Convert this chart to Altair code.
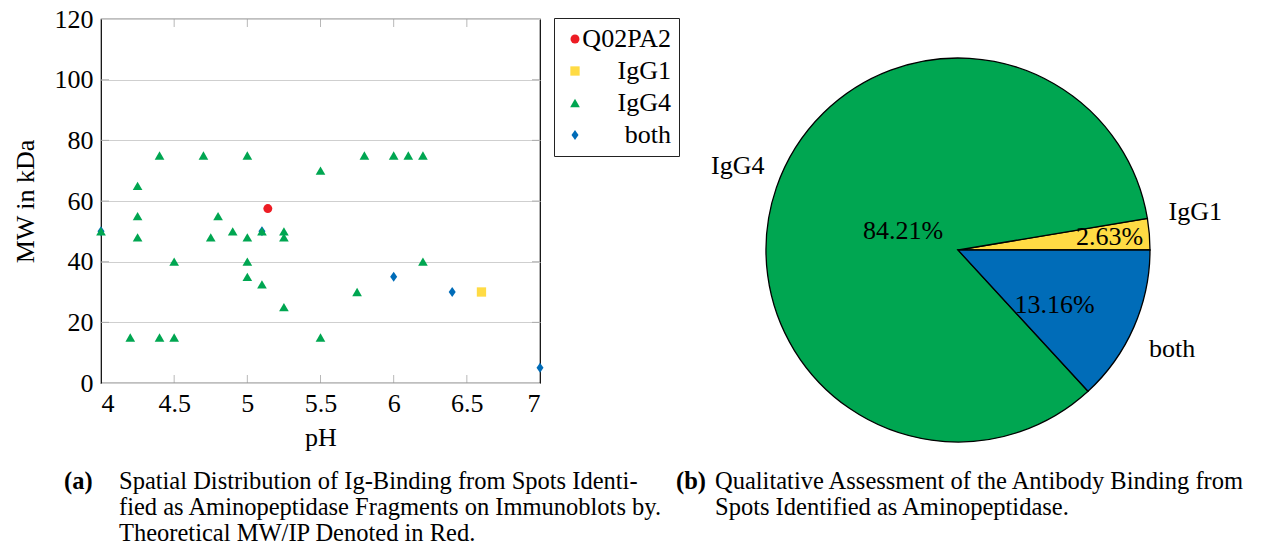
import math
import altair as alt
import pandas as pd

FONT = "Liberation Serif"

# ---------------- data ----------------
groups = ["Q02PA2", "IgG1", "IgG4", "both"]
group_colors = ["#ED1C24", "#FFDB44", "#00A651", "#006CB8"]

both_ph = [4.0, 5.1, 6.0, 6.4, 7.0]
both_mw = [50, 50, 35, 30, 5]

igg1_ph = [6.6]
igg1_mw = [30]

igg4_ph = [4.0, 4.2, 4.25, 4.25, 4.25, 4.4, 4.4, 4.5, 4.5, 4.7, 4.75, 4.8, 4.9,
           5.0, 5.0, 5.0, 5.0, 5.1, 5.1, 5.25, 5.25, 5.25, 5.5, 5.5, 5.75, 5.8,
           6.0, 6.1, 6.2, 6.2]
igg4_mw = [50, 15, 65, 55, 48, 75, 15, 40, 15, 75, 48, 55, 50,
           75, 48, 40, 35, 50, 32.5, 50, 48, 25, 70, 15, 30, 75,
           75, 75, 75, 40]

q02_ph = [5.14]
q02_mw = [57.5]

x_tick_values = [4, 4.5, 5, 5.5, 6, 6.5, 7]
y_tick_values = [0, 20, 40, 60, 80, 100, 120]
x_inner_ticks = [4.5, 5, 5.5, 6, 6.5]
y_inner_ticks = [20, 40, 60, 80, 100]

pie_groups = ["IgG1", "IgG4", "both"]
pie_counts = [1, 32, 5]

caption_a_tag = "(a)"
caption_a_lines = ["Spatial Distribution of Ig-Binding from Spots Identi-",
                   "fied as Aminopeptidase Fragments on Immunoblots by.",
                   "Theoretical MW/IP Denoted in Red."]
caption_b_tag = "(b)"
caption_b_lines = ["Qualitative Assessment of the Antibody Binding from",
                   "Spots Identified as Aminopeptidase."]

# ---------------- tables ----------------
rows = []
for g, xs_, ys_ in [("both", both_ph, both_mw), ("IgG1", igg1_ph, igg1_mw),
                    ("IgG4", igg4_ph, igg4_mw), ("Q02PA2", q02_ph, q02_mw)]:
    for a, b in zip(xs_, ys_):
        rows.append({"ph": a, "mw": b, "group": g})
scatter_df = pd.DataFrame(rows)
pie_df = pd.DataFrame({"group": pie_groups, "count": pie_counts})

W, H = 439, 364

xs = alt.Scale(domain=[4, 7], nice=False, zero=False)
ys = alt.Scale(domain=[0, 120], nice=False, zero=False)
color_scale = alt.Scale(domain=groups, range=group_colors)
shape_scale = alt.Scale(domain=groups, range=["circle", "square", "triangle-up",
                                              "M0,-1L0.7,0L0,1L-0.7,0Z"])
size_scale = alt.Scale(domain=groups, range=[80, 100, 85, 110])
leg = alt.Legend(title=None, orient="none", legendX=453, legendY=-1,
                 labelFont=FONT, labelFontSize=26)

x_axis = alt.Axis(
    values=x_tick_values, format=".2~f", title="pH", grid=False, ticks=False,
    domain=False, labelFont=FONT, titleFont=FONT, labelFontSize=26, labelPadding=7,
    titleFontSize=26, titleFontWeight="normal", titleY=54, titleBaseline="middle")
y_axis = alt.Axis(
    values=y_tick_values, title="MW in kDa", grid=True, gridColor="#cfcfcf",
    ticks=False, domain=False, labelFont=FONT, titleFont=FONT, labelFontSize=26,
    labelPadding=8, titleFontSize=26, titleFontWeight="normal", titleX=-76,
    titleY=182, titleAlign="center", titleBaseline="middle")

points = alt.Chart(scatter_df).mark_point(filled=True, opacity=1, strokeWidth=0).encode(
    x=alt.X("ph:Q", scale=xs, axis=x_axis),
    y=alt.Y("mw:Q", scale=ys, axis=y_axis),
    color=alt.Color("group:N", scale=color_scale, legend=leg),
    shape=alt.Shape("group:N", scale=shape_scale, legend=leg),
    size=alt.Size("group:N", scale=size_scale, legend=leg),
)

xt_df = pd.DataFrame({"ph": x_inner_ticks})
yt_df = pd.DataFrame({"mw": y_inner_ticks})
tick_style = dict(color="#9a9a9a", thickness=1, size=8)
xt_bottom = alt.Chart(xt_df).mark_tick(orient="vertical", **tick_style).encode(
    x=alt.X("ph:Q", scale=xs, axis=x_axis), y=alt.value(H - 4))
xt_top = alt.Chart(xt_df).mark_tick(orient="vertical", **tick_style).encode(
    x=alt.X("ph:Q", scale=xs, axis=x_axis), y=alt.value(4))
yt_left = alt.Chart(yt_df).mark_tick(orient="horizontal", **tick_style).encode(
    y=alt.Y("mw:Q", scale=ys, axis=y_axis), x=alt.value(4))
yt_right = alt.Chart(yt_df).mark_tick(orient="horizontal", **tick_style).encode(
    y=alt.Y("mw:Q", scale=ys, axis=y_axis), x=alt.value(W - 4))

# ---------------- pie ----------------
CX, CY, R = 857, 231, 192
pie_base = alt.Chart(pie_df).transform_joinaggregate(
    total="sum(count)"
).transform_calculate(
    pct="format(datum.count / datum.total * 100, '.2f') + '%'",
    ord="indexof(['both', 'IgG4', 'IgG1'], datum.group)",
).encode(
    theta=alt.Theta("count:Q", stack=True,
                    scale=alt.Scale(range=[math.pi / 2, math.pi / 2 + 2 * math.pi])),
    order=alt.Order("ord:Q"),
    x=alt.value(CX),
    y=alt.value(CY),
)
arcs = pie_base.mark_arc(outerRadius=R, stroke="black", strokeWidth=1.3).encode(
    fill=alt.Fill("group:N", scale=color_scale, legend=None))


def pie_label(group, field, radius, dx=0, dy=0):
    return pie_base.mark_text(radius=radius, font=FONT, fontSize=26, dx=dx, dy=dy,
                              align="center", baseline="middle", color="black").encode(
        text=alt.condition(alt.datum.group == group, alt.Text(f"{field}:N"), alt.value("")))


labels = [
    pie_label("IgG4", "group", 236, 3, -7),
    pie_label("IgG1", "group", 236, 2, -19),
    pie_label("both", "group", 236, -2, 4),
    pie_label("IgG4", "pct", 58),
    pie_label("IgG1", "pct", 152),
    pie_label("both", "pct", 111, -5, 10),
]

# ---------------- captions ----------------
cap_df = pd.DataFrame({"a_tag": [caption_a_tag], "a_txt": ["\n".join(caption_a_lines)],
                       "b_tag": [caption_b_tag], "b_txt": ["\n".join(caption_b_lines)]})
cap_style = dict(font=FONT, fontSize=24.5, align="left", baseline="alphabetic",
                 lineBreak="\n", lineHeight=26, color="black")
cap_a_tag = alt.Chart(cap_df).mark_text(fontWeight="bold", **cap_style).encode(
    text="a_tag:N", x=alt.value(-37), y=alt.value(470))
cap_a_txt = alt.Chart(cap_df).mark_text(**cap_style).encode(
    text="a_txt:N", x=alt.value(18), y=alt.value(470))
cap_b_tag = alt.Chart(cap_df).mark_text(fontWeight="bold", **cap_style).encode(
    text="b_tag:N", x=alt.value(575), y=alt.value(470))
cap_b_txt = alt.Chart(cap_df).mark_text(**cap_style).encode(
    text="b_txt:N", x=alt.value(614), y=alt.value(470))

chart = alt.layer(
    points, xt_bottom, xt_top, yt_left, yt_right, arcs, *labels,
    cap_a_tag, cap_a_txt, cap_b_tag, cap_b_txt
).properties(
    width=W, height=H,
    autosize=alt.AutoSizeParams(type="none"),
    padding={"left": 101, "top": 19, "right": 730, "bottom": 167},
).configure(
    font=FONT
).configure_view(
    stroke="black", strokeWidth=1.2
).configure_axis(
    labelFont=FONT, titleFont=FONT, labelColor="black", titleColor="black"
).configure_legend(
    labelFont=FONT, labelFontSize=26, labelColor="black", strokeColor="#222222",
    fillColor="white", padding=8, rowPadding=6, labelOffset=83, labelAlign="right",
    symbolStrokeWidth=0
)

chart.save("out.html", embed_options={"renderer": "svg", "actions": False})
